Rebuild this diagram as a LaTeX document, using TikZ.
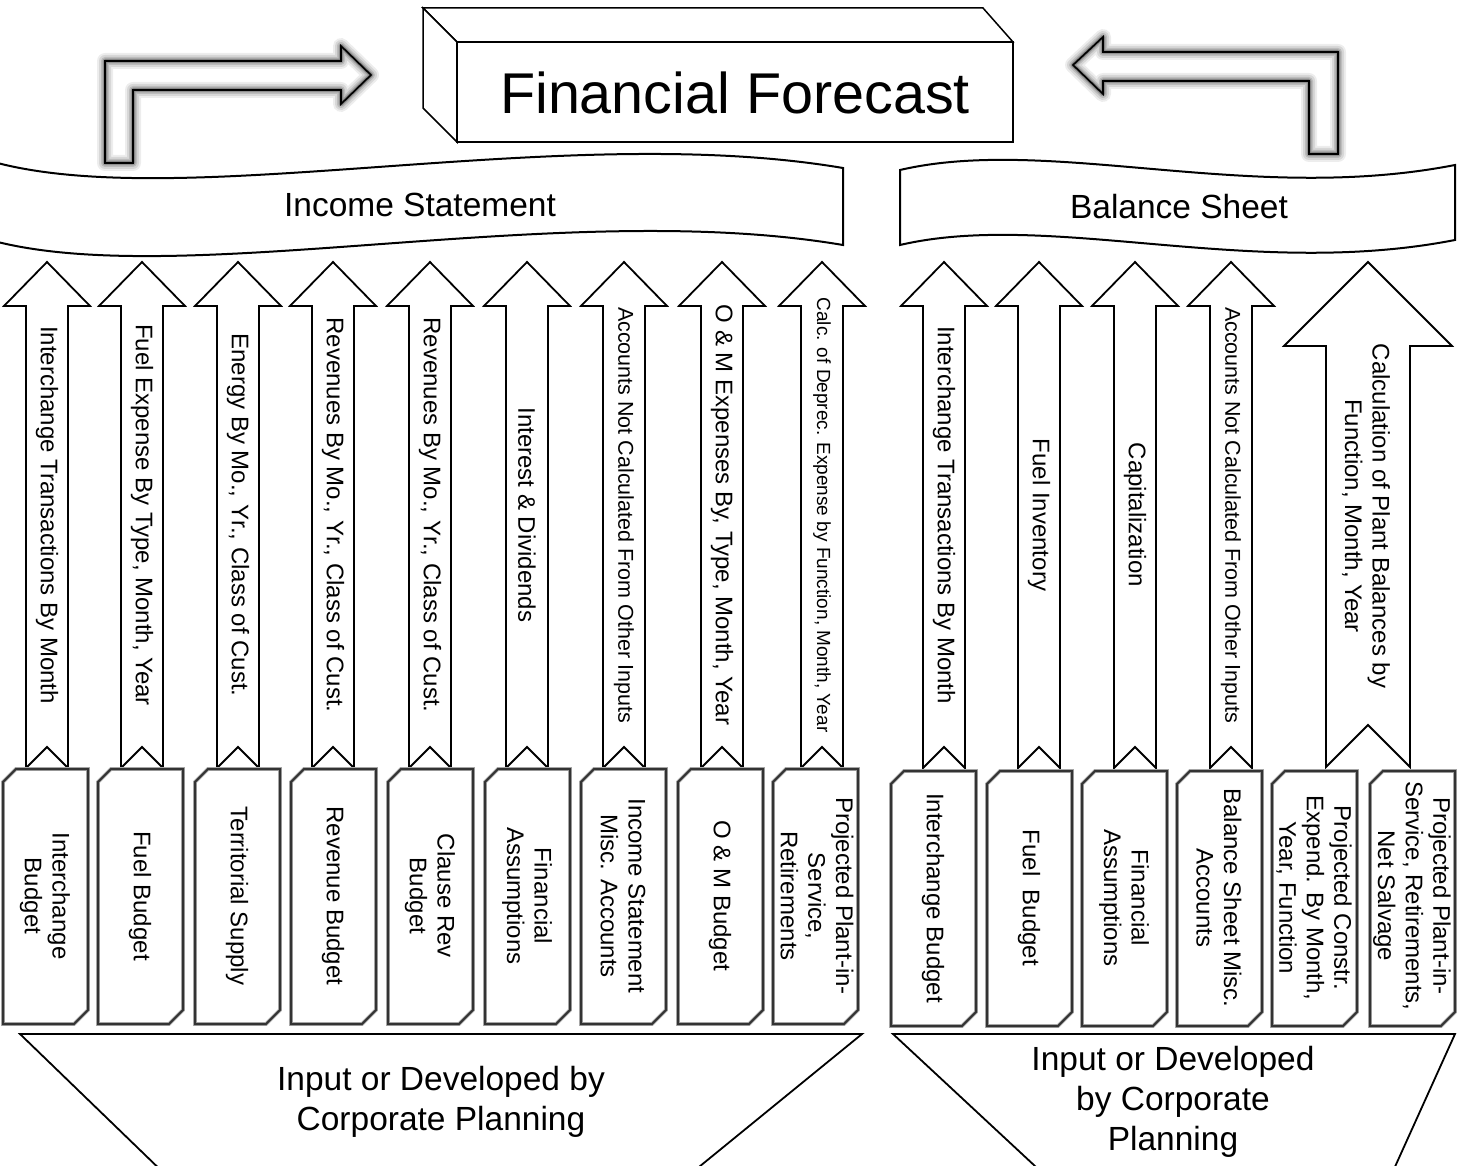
\documentclass[tikz,border=0pt]{standalone}
\usepackage{fontspec}
\setmainfont{Liberation Sans}
\begin{document}
\begin{tikzpicture}[x=1pt,y=-1pt,
  outline/.style={draw=black,line width=1.8pt,fill=white,line join=miter},
  banner/.style={draw=black,line width=2pt,fill=white},
  docline/.style={draw=black!80,line width=2pt,line join=miter},
  dochalo/.style={draw=black!35,line width=3.8pt,fill=white,line join=miter},
  trap/.style={draw=black,line width=1.8pt},
  atxt/.style={rotate=-90,align=center,inner sep=0pt,font=\fontsize{24}{27.6}\selectfont},
  btxt/.style={rotate=-90,align=center,inner sep=0pt,font=\fontsize{24}{27.6}\selectfont},
  bigtxt/.style={align=center,inner sep=0pt,font=\fontsize{33.5}{40}\selectfont}]

\useasboundingbox (0,0) rectangle (1465,1166);
\fill[white] (0,0) rectangle (1465,1166);
\clip (0,0) rectangle (1465,1166);

% block arrow pointing up: centre x
\newcommand\blockup[1]{%
  \draw[outline] (#1,262) -- (#1+43,306) -- (#1+21,306) -- (#1+21,768)
     -- (#1,747) -- (#1-21,768) -- (#1-21,306) -- (#1-43,306) -- cycle;}
% document box with two cut corners: centre x, top, bottom
\newcommand\docbox[3]{%
  \draw[dochalo] (#1-42,#2+13) -- (#1-29,#2) -- (#1+43,#2) -- (#1+43,#3-14)
     -- (#1+29,#3) -- (#1-42,#3) -- cycle;
  \draw[docline] (#1-42,#2+13) -- (#1-29,#2) -- (#1+43,#2) -- (#1+43,#3-14)
     -- (#1+29,#3) -- (#1-42,#3) -- cycle;}

% ---- banners
\draw[banner] (-10,161) .. controls (180,215) and (560,120) .. (843,168)
   -- (843,245) .. controls (560,197) and (180,292) .. (-10,240) -- cycle;
\node[bigtxt] (inc) at (420,205) {Income Statement};
\draw[banner] (900,170) .. controls (1050,135) and (1250,205) .. (1455,165)
   -- (1455,240) .. controls (1250,280) and (1050,210) .. (900,245) -- cycle;
\node[bigtxt] (bal) at (1179,207) {Balance Sheet};

% ---- bent arrows with soft glow
\def\leftbend{(105,163) -- (105,61) -- (341,61) -- (341,46) -- (371,75) -- (341,104) -- (341,90) -- (133,90) -- (133,163) -- cycle}
\def\rightbend{(1338,154) -- (1338,52) -- (1103,52) -- (1103,37) -- (1073,65) -- (1103,94) -- (1103,81) -- (1309,81) -- (1309,154) -- cycle}
\fill[white] \leftbend;
\fill[white] \rightbend;
\foreach \w/\o in {16/0.07,12/0.09,8/0.12,5/0.16,3/0.22}{
  \draw[line width=\w pt,black,opacity=\o,line join=round] \leftbend;
  \draw[line width=\w pt,black,opacity=\o,line join=round] \rightbend;
}
\draw[line width=1.6pt,line join=miter] \leftbend;
\draw[line width=1.6pt,line join=miter] \rightbend;

% ---- 3D title box
\draw[line width=1.5pt,fill=white,line join=miter]
  (457,42) -- (423,8) -- (983,8) -- (1013,42) -- cycle;
\draw[line width=1.5pt,fill=white,line join=miter]
  (457,42) -- (423,8) -- (423,108) -- (457,142) -- cycle;
\draw[line width=1.8pt,fill=white] (457,42) rectangle (1013,142);
\node[inner sep=0pt,font=\fontsize{57.5}{60}\selectfont] (ff) at (735,93) {Financial Forecast};

% ---- up arrows, income statement side
\foreach \cx in {47,142,238,333,430,527,624,722,822} {\blockup{\cx}}
\node[atxt] (a1) at (47,515) {Interchange Transactions By Month};
\node[atxt] (a2) at (142,515) {Fuel Expense By Type, Month, Year};
\node[atxt] (a3) at (238,515) {Energy By Mo., Yr., Class of Cust.};
\node[atxt] (a4) at (333,515) {Revenues By Mo., Yr., Class of Cust.};
\node[atxt] (a5) at (430,515) {Revenues By Mo., Yr., Class of Cust.};
\node[atxt] (a6) at (527,515) {Interest \& Dividends};
\node[atxt,font=\fontsize{21.5}{24}\selectfont] (a7) at (624,515) {Accounts Not Calculated From Other Inputs};
\node[atxt] (a8) at (722,515) {O \& M Expenses By, Type, Month, Year};
\node[atxt,font=\fontsize{19}{22}\selectfont] (a9) at (822,515) {Calc. of Deprec. Expense by Function, Month, Year};

% ---- up arrows, balance sheet side
\foreach \cx in {944,1039,1135,1231} {\blockup{\cx}}
\draw[outline] (1368,262) -- (1452,346) -- (1410,346) -- (1410,767) -- (1368,725)
   -- (1326,767) -- (1326,346) -- (1284,346) -- cycle;
\node[atxt] (a10) at (944,515) {Interchange Transactions By Month};
\node[atxt] (a11) at (1039,515) {Fuel Inventory};
\node[atxt] (a12) at (1135,515) {Capitalization};
\node[atxt,font=\fontsize{21.5}{24}\selectfont] (a13) at (1231,515) {Accounts Not Calculated From Other Inputs};
\node[atxt] (a14) at (1366,516) {Calculation of Plant Balances by\\Function, Month, Year};

% ---- source documents
\foreach \cx in {45,140,237,333,430,527,623,720,815} {\docbox{\cx}{769}{1024}}
\foreach \cx in {933,1029,1124,1219,1314,1412} {\docbox{\cx}{771}{1026}}
\node[btxt] (b1) at (45,896) {Interchange\\Budget};
\node[btxt] (b2) at (140,896) {Fuel Budget};
\node[btxt] (b3) at (237,896) {Territorial Supply};
\node[btxt] (b4) at (333,896) {Revenue Budget};
\node[btxt] (b5) at (430,896) {Clause Rev\\Budget};
\node[btxt] (b6) at (527,896) {Financial\\Assumptions};
\node[btxt] (b7) at (623,896) {Income Statement\\Misc. Accounts};
\node[btxt] (b8) at (720,896) {O \& M Budget};
\node[btxt] (b9) at (817,896) {Projected Plant-in-\\Service,\\Retirements};
\node[btxt] (b10) at (933,898) {Interchange Budget};
\node[btxt] (b11) at (1029,898) {Fuel\ \ Budget};
\node[btxt] (b12) at (1124,898) {Financial\\Assumptions};
\node[btxt] (b13) at (1219,898) {Balance Sheet Misc.\\Accounts};
\node[btxt] (b14) at (1314,898) {Projected Constr.\\Expend. By Month,\\Year, Function};
\node[btxt] (b15) at (1412,896) {Projected Plant-in-\\Service, Retirements,\\Net Salvage};

% ---- funnels at the bottom
\draw[trap,line join=miter] (171,1180) -- (20,1034) -- (862,1034) -- (683,1180);
\draw[trap,line join=miter] (1050,1180) -- (893,1034) -- (1455,1034) -- (1389,1180);
\node[bigtxt] (c1) at (441,1102) {Input or Developed by\\Corporate Planning};
\node[bigtxt] (c2) at (1173,1102) {Input or Developed\\by Corporate\\Planning};
\end{tikzpicture}
\end{document}
